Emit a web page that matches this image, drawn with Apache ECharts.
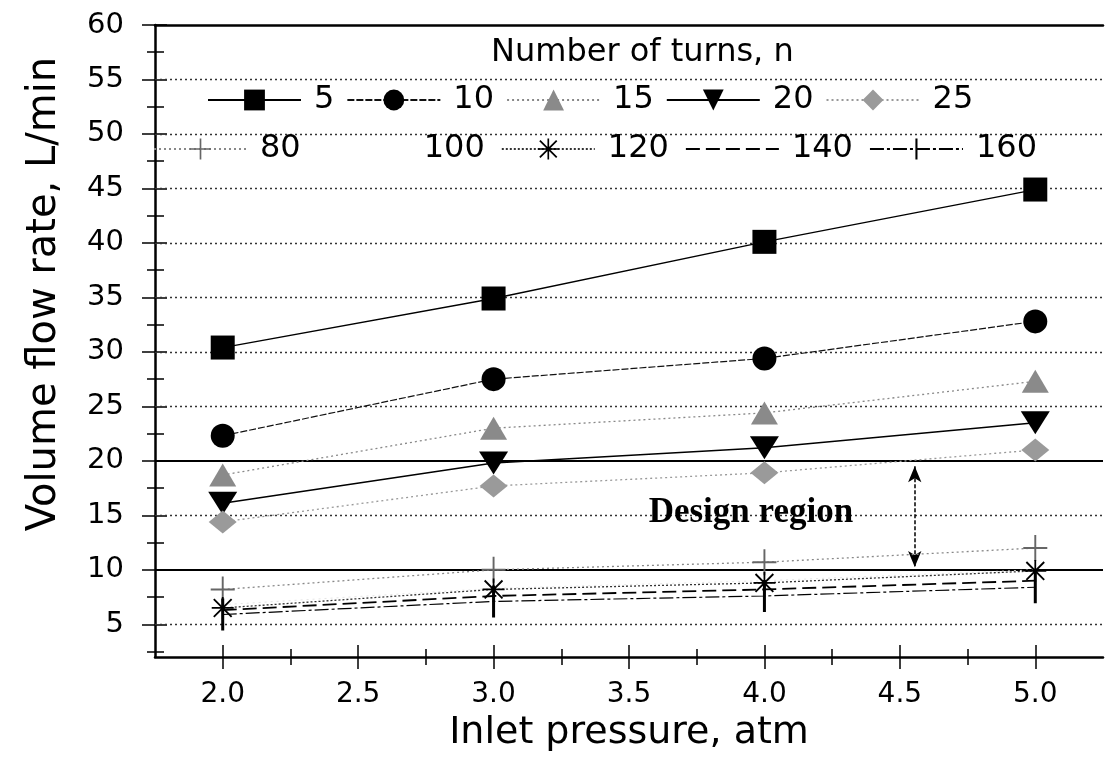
<!DOCTYPE html>
<html>
<head>
<meta charset="utf-8">
<script src="https://cdn.jsdelivr.net/npm/echarts@6/dist/echarts.min.js"></script>
<style>
  html, body { margin: 0; padding: 0; background: #fff; }
  #chart { width: 1105px; height: 769px; }
</style>
</head>
<body>
<div id="chart"></div>
<script>
// ---- data ----
const pressure = [2.0, 3.0, 4.0, 5.0];
const turns5   = [30.4, 34.9, 40.1, 44.9];
const turns10  = [22.3, 27.5, 29.4, 32.8];
const turns15  = [18.7, 23.0, 24.4, 27.3];
const turns20  = [16.1, 19.8, 21.2, 23.5];
const turns25  = [14.4, 17.7, 18.9, 21.0];
const turns80  = [8.2, 10.0, 10.7, 12.0];
const turns100 = [6.8, 8.3, 9.0, 10.0];
const turns120 = [6.5, 8.2, 8.8, 9.9];
const turns140 = [6.3, 7.6, 8.2, 9.0];
const turns160 = [5.9, 7.1, 7.6, 8.4];

const xMajorTicks = [2.0, 2.5, 3.0, 3.5, 4.0, 4.5, 5.0];
const xMinorTicks = [2.25, 2.75, 3.25, 3.75, 4.25, 4.75];
const yMajorTicks = [5, 10, 15, 20, 25, 30, 35, 40, 45, 50, 55, 60];
const yMinorTicks = [2.5, 7.5, 12.5, 17.5, 22.5, 27.5, 32.5, 37.5, 42.5, 47.5, 52.5, 57.5];
const dottedGrid = [5, 15, 25, 30, 35, 40, 45, 50, 55];
const designBounds = [10, 20];
const designArrow = [[4.555, 19.5], [4.555, 10.25]];
const designLabel = [3.95, 15.2];

const legendTitle = 'Number of turns, n';
const xName = 'Inlet pressure, atm';
const yName = 'Volume flow rate, L/min';

const pair = (ys) => pressure.map((x, i) => [x, ys[i]]);

const FONT = 'DejaVu Sans';

const P_PLUS = 'path://M9.2,0h1.6v20h-1.6z M0,9.2h20v1.6h-20z';
const P_STAR = 'path://M9.2,0h1.6v20h-1.6z M0,9.2h20v1.6h-20z M2.5,1.3L18.7,17.5L17.5,18.7L1.3,2.5z M17.5,1.3L18.7,2.5L2.5,18.7L1.3,17.5z';
const P_BAR = 'path://M9,0h2v20h-2z M0,0h0.01v0.01h-0.01z M20,20h-0.01v-0.01h0.01z';
const P_NONE = 'path://M0,0h0.01v0.01h-0.01z M20,20h-0.01v-0.01h0.01z';

const chart = echarts.init(document.getElementById('chart'), null, { renderer: 'canvas' });

function mkY(opts) {
  return Object.assign({
    type: 'value', min: 2, max: 60, position: 'left',
    axisLine: { show: false }, splitLine: { show: false },
    axisLabel: { show: false }, axisTick: { show: false }
  }, opts);
}
function mkX(opts) {
  return Object.assign({
    type: 'value', min: 1.75, max: 5.25, position: 'bottom',
    axisLine: { show: false }, splitLine: { show: false },
    axisLabel: { show: false }, axisTick: { show: false }
  }, opts);
}
const tickStyle = (w) => ({ color: '#000', width: w });
const legendText = { fontFamily: FONT, fontSize: 32, color: '#000', padding: [0, 0, 0, 8] };

const option = {
  animation: false,
  backgroundColor: '#fff',
  title: {
    text: legendTitle, left: 486, top: 32,
    textStyle: { fontFamily: FONT, fontSize: 32, fontWeight: 'normal', color: '#000' }
  },
  graphic: [{
    type: 'text', x: 45, y: 294, rotation: Math.PI / 2,
    style: {
      text: yName, fontFamily: FONT, fontSize: 40, fill: '#000',
      textAlign: 'center', textVerticalAlign: 'middle'
    }
  }],
  grid: { left: 155, right: 2, top: 25, bottom: 112, containLabel: false },
  legend: [
    {
      data: ['5', '10', '15', '20', '25'],
      left: 207, top: 84, itemWidth: 93, itemHeight: 26, itemGap: 12, padding: 0,
      textStyle: legendText, selectedMode: false
    },
    {
      data: ['80', { name: '100', itemStyle: { opacity: 0 }, lineStyle: { opacity: 0 } }, '120', '140', '160'],
      left: 153, top: 133, itemWidth: 93, itemHeight: 26, itemGap: 16, padding: 0,
      textStyle: legendText, selectedMode: false
    }
  ],
  xAxis: [
    mkX({
      axisLine: { show: true, lineStyle: { color: '#000', width: 2.5 } },
      axisTick: { show: true, customValues: xMajorTicks, length: 12, lineStyle: tickStyle(1.5) },
      axisLabel: { show: true, customValues: xMajorTicks, margin: 24,
        formatter: (v) => v.toFixed(1),
        fontFamily: FONT, fontSize: 28, color: '#000' },
      name: xName, nameLocation: 'middle', nameGap: 52,
      nameTextStyle: { fontFamily: FONT, fontSize: 38, color: '#000' }
    }),
    mkX({ axisTick: { show: true, customValues: xMajorTicks, inside: true, length: 12, lineStyle: tickStyle(1.5) } }),
    mkX({ axisTick: { show: true, customValues: xMinorTicks, length: 8, lineStyle: tickStyle(1.5) } }),
    mkX({ axisTick: { show: true, customValues: xMinorTicks, inside: true, length: 8, lineStyle: tickStyle(1.5) } }),
    mkX({ position: 'top', axisLine: { show: true, lineStyle: { color: '#000', width: 2.5 } } })
  ],
  yAxis: [
    mkY({
      axisLine: { show: true, lineStyle: { color: '#000', width: 2.5 } },
      axisTick: { show: true, customValues: yMajorTicks, length: 13, lineStyle: tickStyle(1.5) },
      axisLabel: { show: true, customValues: yMajorTicks, margin: 31,
        fontFamily: FONT, fontSize: 29, color: '#000' }
    }),
    mkY({ axisTick: { show: true, customValues: yMajorTicks, inside: true, length: 12, lineStyle: tickStyle(1.5) } }),
    mkY({ axisTick: { show: true, customValues: yMinorTicks, length: 8, lineStyle: tickStyle(1.5) } }),
    mkY({ axisTick: { show: true, customValues: yMinorTicks, inside: true, length: 9, lineStyle: tickStyle(1.5) } })
  ],
  series: [
    {
      name: '5', type: 'line', data: pair(turns5),
      symbol: 'rect', symbolSize: 24,
      itemStyle: { color: '#000' },
      lineStyle: { color: '#000', width: 1.3 },
      z: 5,
      markLine: {
        silent: true, symbol: 'none', label: { show: false }, z: 1,
        data: [
          ...dottedGrid.map(v => ({ yAxis: v, lineStyle: { type: [2, 3], color: '#333', width: 1.3 } })),
          ...designBounds.map(v => ({ yAxis: v, lineStyle: { type: 'solid', color: '#000', width: 2.2 } })),
          [
            { coord: designArrow[0], symbol: 'arrow', symbolSize: [10, 16],
              lineStyle: { type: [4, 2], color: '#000', width: 1.5 } },
            { coord: designArrow[1], symbol: 'arrow', symbolSize: [10, 16] }
          ]
        ]
      },
      markPoint: {
        silent: true, symbol: 'rect', symbolSize: 1,
        itemStyle: { color: 'rgba(0,0,0,0)' },
        data: [{
          coord: designLabel,
          label: {
            show: true, position: 'inside', formatter: 'Design region',
            fontFamily: 'Liberation Serif', fontWeight: 'bold', fontSize: 35, color: '#000'
          }
        }]
      }
    },
    {
      name: '10', type: 'line', data: pair(turns10),
      symbol: 'circle', symbolSize: 24,
      itemStyle: { color: '#000' },
      lineStyle: { color: '#111', width: 1.2, type: [7, 2] }, z: 5
    },
    {
      name: '15', type: 'line', data: pair(turns15),
      symbol: 'triangle', symbolSize: [27, 23],
      itemStyle: { color: '#8a8a8a' },
      lineStyle: { color: '#888', width: 1.3, type: [2, 3] }, z: 5
    },
    {
      name: '20', type: 'line', data: pair(turns20),
      symbol: 'triangle', symbolRotate: 180, symbolSize: [29, 23],
      itemStyle: { color: '#000' },
      lineStyle: { color: '#000', width: 1.5 }, z: 5
    },
    {
      name: '25', type: 'line', data: pair(turns25),
      symbol: 'diamond', symbolSize: [28, 23],
      itemStyle: { color: '#9a9a9a' },
      lineStyle: { color: '#999', width: 1.3, type: [2, 3] }, z: 5
    },
    {
      name: '80', type: 'line', data: pair(turns80),
      symbol: P_PLUS, symbolSize: [24, 26],
      itemStyle: { color: '#666' },
      lineStyle: { color: '#888', width: 1.3, type: [2, 3] }, z: 5
    },
    {
      name: '100', type: 'line', data: pair(turns100),
      symbol: P_NONE, symbolSize: 1,
      itemStyle: { color: '#e6e6e6' },
      lineStyle: { color: '#e6e6e6', width: 1, type: [2, 4] }, z: 4
    },
    {
      name: '120', type: 'line', data: pair(turns120),
      symbol: P_STAR, symbolSize: 22,
      itemStyle: { color: '#000' },
      lineStyle: { color: '#333', width: 1.3, type: [2, 2] }, z: 5
    },
    {
      name: '140', type: 'line', data: pair(turns140),
      symbol: P_NONE, symbolSize: 1,
      itemStyle: { color: '#000' },
      lineStyle: { color: '#000', width: 1.8, type: [14, 6] }, z: 5
    },
    {
      name: '160', type: 'line', data: pair(turns160),
      symbol: P_BAR, symbolSize: [30, 32],
      itemStyle: { color: '#000' },
      lineStyle: { color: '#000', width: 1.2, type: [14, 3, 3, 3] }, z: 5
    }
  ]
};
chart.setOption(option);
</script>
</body>
</html>
